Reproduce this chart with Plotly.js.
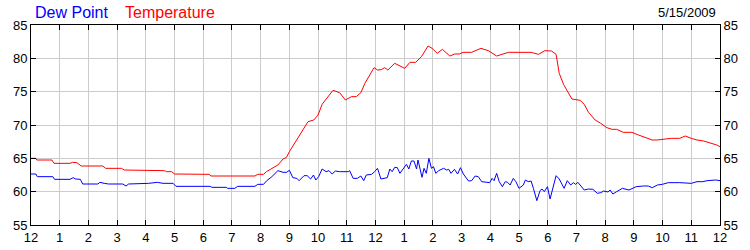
<!DOCTYPE html>
<html>
<head>
<meta charset="utf-8">
<script src="https://cdn.plot.ly/plotly-3.0.1.min.js"></script>
<style>html,body{margin:0;padding:0;background:#fff;}#chart{width:750px;height:250px;}</style>
</head>
<body>
<div id="chart"></div>
<script>
// Hour-of-day tick labels (midnight to midnight)
const hourTicks = [0,1,2,3,4,5,6,7,8,9,10,11,12,13,14,15,16,17,18,19,20,21,22,23,24];
const hourLabels = ["12","1","2","3","4","5","6","7","8","9","10","11","12","1","2","3","4","5","6","7","8","9","10","11","12"];

// Temperature (°F) readings: hours since midnight, values
const tempHours = [0,0.17,0.2,0.73,0.8,1.36,1.45,1.6,1.75,2.5,2.6,3.15,3.25,4.0,4.05,4.65,4.72,4.9,5.0,6.2,6.27,7.8,7.9,8.1,8.2,8.4,8.6,8.78,8.9,9.0,9.26,9.48,9.65,9.85,10.0,10.14,10.29,10.52,10.75,10.95,11.16,11.33,11.49,11.63,11.8,11.95,12.07,12.2,12.32,12.43,12.67,12.85,13.02,13.2,13.4,13.6,13.83,13.97,14.15,14.33,14.59,14.76,14.92,15.05,15.35,15.67,15.93,16.22,16.45,16.63,17.42,17.68,17.9,18.13,18.29,18.4,18.55,18.72,18.84,19.13,19.27,19.42,19.65,19.83,20.06,20.24,20.4,20.63,20.93,21.16,21.45,21.64,21.81,22.05,22.3,22.6,22.79,23.0,23.2,23.43,23.66,23.89,24.0];
const tempValues = [65.0,65.0,64.75,64.75,64.25,64.25,64.4,64.35,63.85,63.85,63.5,63.5,63.25,63.25,63.15,63.15,63.0,63.0,62.65,62.6,62.35,62.35,62.6,62.6,63.0,63.5,64.0,64.9,65.15,66.0,67.75,69.25,70.5,70.75,71.5,73.1,74.0,75.2,74.85,73.75,74.25,74.25,74.85,76.25,77.5,78.6,78.25,78.3,78.6,78.25,79.25,78.9,78.5,79.4,79.4,80.25,81.85,81.5,80.75,81.35,80.35,80.65,80.65,80.9,80.9,81.5,81.15,80.35,80.6,80.9,80.9,80.6,81.15,81.1,80.6,77.75,76.1,74.75,73.9,73.7,73.1,71.9,70.75,70.3,69.6,69.35,69.35,68.9,68.9,68.5,68.0,67.75,67.75,67.85,68.0,68.0,68.35,68.0,67.75,67.6,67.35,67.0,66.75];

// Dew point (°F) readings: hours since midnight, values
const dewHours = [0,0.17,0.22,0.76,0.82,1.36,1.47,1.55,1.72,1.8,2.33,2.4,2.55,2.7,3.2,3.31,3.4,4.0,4.1,4.4,4.6,4.95,5.05,6.24,6.3,6.8,6.85,7.1,7.2,7.8,7.9,8.1,8.2,8.39,8.6,8.78,8.9,9.0,9.12,9.26,9.34,9.51,9.62,9.74,9.84,9.92,10.02,10.14,10.28,10.38,10.49,10.6,10.75,11.05,11.1,11.22,11.37,11.49,11.59,11.68,11.86,11.97,12.07,12.19,12.32,12.41,12.5,12.58,12.67,12.76,12.85,12.96,13.08,13.16,13.25,13.34,13.43,13.48,13.55,13.62,13.69,13.77,13.86,13.95,14.02,14.1,14.2,14.37,14.48,14.55,14.63,14.75,14.86,14.96,15.06,15.24,15.35,15.47,15.58,15.7,15.98,16.06,16.13,16.22,16.31,16.42,16.52,16.6,16.69,16.8,16.89,17.0,17.15,17.22,17.32,17.42,17.5,17.62,17.73,17.8,17.88,17.99,18.08,18.2,18.29,18.4,18.57,18.68,18.8,18.89,18.97,19.05,19.13,19.27,19.42,19.57,19.73,19.85,19.95,20.1,20.17,20.27,20.4,20.6,20.83,20.97,21.08,21.34,21.5,21.64,21.82,21.99,22.2,22.6,23.0,23.2,23.4,23.55,23.85,24.0];
const dewValues = [62.65,62.65,62.25,62.25,61.85,61.85,62.1,61.9,61.85,61.15,61.15,61.4,61.25,61.15,61.15,60.85,61.15,61.15,61.25,61.4,61.25,61.25,60.8,60.8,60.65,60.65,60.5,60.5,60.8,60.8,61.1,61.1,61.6,62.25,63.15,62.9,62.9,63.2,62.1,62.0,61.65,62.4,62.4,61.9,62.5,61.75,62.25,63.4,63.0,63.15,62.65,63.1,63.0,63.0,63.15,62.0,62.0,62.35,61.65,62.5,62.6,63.0,63.5,61.9,62.0,62.1,63.4,63.0,63.65,63.6,62.75,63.4,64.1,63.4,64.6,64.6,63.4,64.75,63.5,62.15,63.5,62.75,65.0,63.5,63.75,62.75,63.15,63.5,63.25,63.35,62.75,63.35,62.65,63.6,62.65,61.6,61.65,62.35,62.25,61.5,61.35,62.0,61.65,62.75,61.5,60.75,61.5,61.4,61.0,62.0,61.5,60.5,61.0,61.75,61.5,61.6,60.5,58.65,60.15,60.4,60.0,60.75,58.9,60.75,62.4,61.9,60.5,61.65,61.0,61.35,61.1,61.4,61.0,60.25,60.4,60.35,59.75,59.85,60.1,59.95,60.25,59.65,60.0,60.5,60.25,60.5,60.75,60.85,60.85,60.6,61.0,61.1,61.35,61.35,61.25,61.5,61.5,61.65,61.75,61.65];

const seriesNames = ["Dew Point", "Temperature"];
const dateLabel = "5/15/2009";

const FONT = "Liberation Sans, Arial, sans-serif";
const GRID = "#cccccc";

const traces = [
  {x: dewHours, y: dewValues, type: "scatter", mode: "lines", name: seriesNames[0],
   line: {color: "#0000ff", width: 1}, xaxis: "x", yaxis: "y", hoverinfo: "skip"},
  {x: tempHours, y: tempValues, type: "scatter", mode: "lines", name: seriesNames[1],
   line: {color: "#ff0000", width: 1}, xaxis: "x", yaxis: "y2", hoverinfo: "skip"}
];

const yCommon = {
  range: [55, 85], dtick: 5, tick0: 55, ticks: "inside", ticklen: 5, tickcolor: "#000",
  showline: true, linecolor: "#000", linewidth: 1, zeroline: false,
  tickfont: {family: FONT, size: 13, color: "#000"}, fixedrange: true
};

const layout = {
  width: 750, height: 250,
  margin: {l: 31, r: 30, t: 25, b: 25, pad: 0},
  paper_bgcolor: "#fff", plot_bgcolor: "#fff",
  showlegend: false,
  xaxis: {
    range: [0, 24], tickvals: hourTicks, ticktext: hourLabels,
    ticks: "inside", ticklen: 5, tickcolor: "#000",
    showline: true, linecolor: "#000", linewidth: 1, mirror: "ticks",
    showgrid: true, gridcolor: GRID, gridwidth: 1, zeroline: false,
    tickfont: {family: FONT, size: 13, color: "#000"}, fixedrange: true
  },
  yaxis: Object.assign({}, yCommon, {side: "left", showgrid: true, gridcolor: GRID, gridwidth: 1, mirror: true}),
  yaxis2: Object.assign({}, yCommon, {side: "right", overlaying: "y", showgrid: false}),
  annotations: [
    {text: seriesNames[0], xref: "paper", yref: "paper", x: 0.003, y: 1.065, xanchor: "left", yanchor: "middle",
     showarrow: false, font: {family: FONT, size: 16, color: "#0000ff"}},
    {text: seriesNames[1], xref: "paper", yref: "paper", x: 0.1335, y: 1.065, xanchor: "left", yanchor: "middle",
     showarrow: false, font: {family: FONT, size: 16, color: "#ff0000"}},
    {text: dateLabel, xref: "paper", yref: "paper", x: 0.997, y: 1.065, xanchor: "right", yanchor: "middle",
     showarrow: false, font: {family: FONT, size: 13, color: "#000"}}
  ]
};

Plotly.newPlot("chart", traces, layout, {staticPlot: true, displayModeBar: false});
</script>
</body>
</html>
